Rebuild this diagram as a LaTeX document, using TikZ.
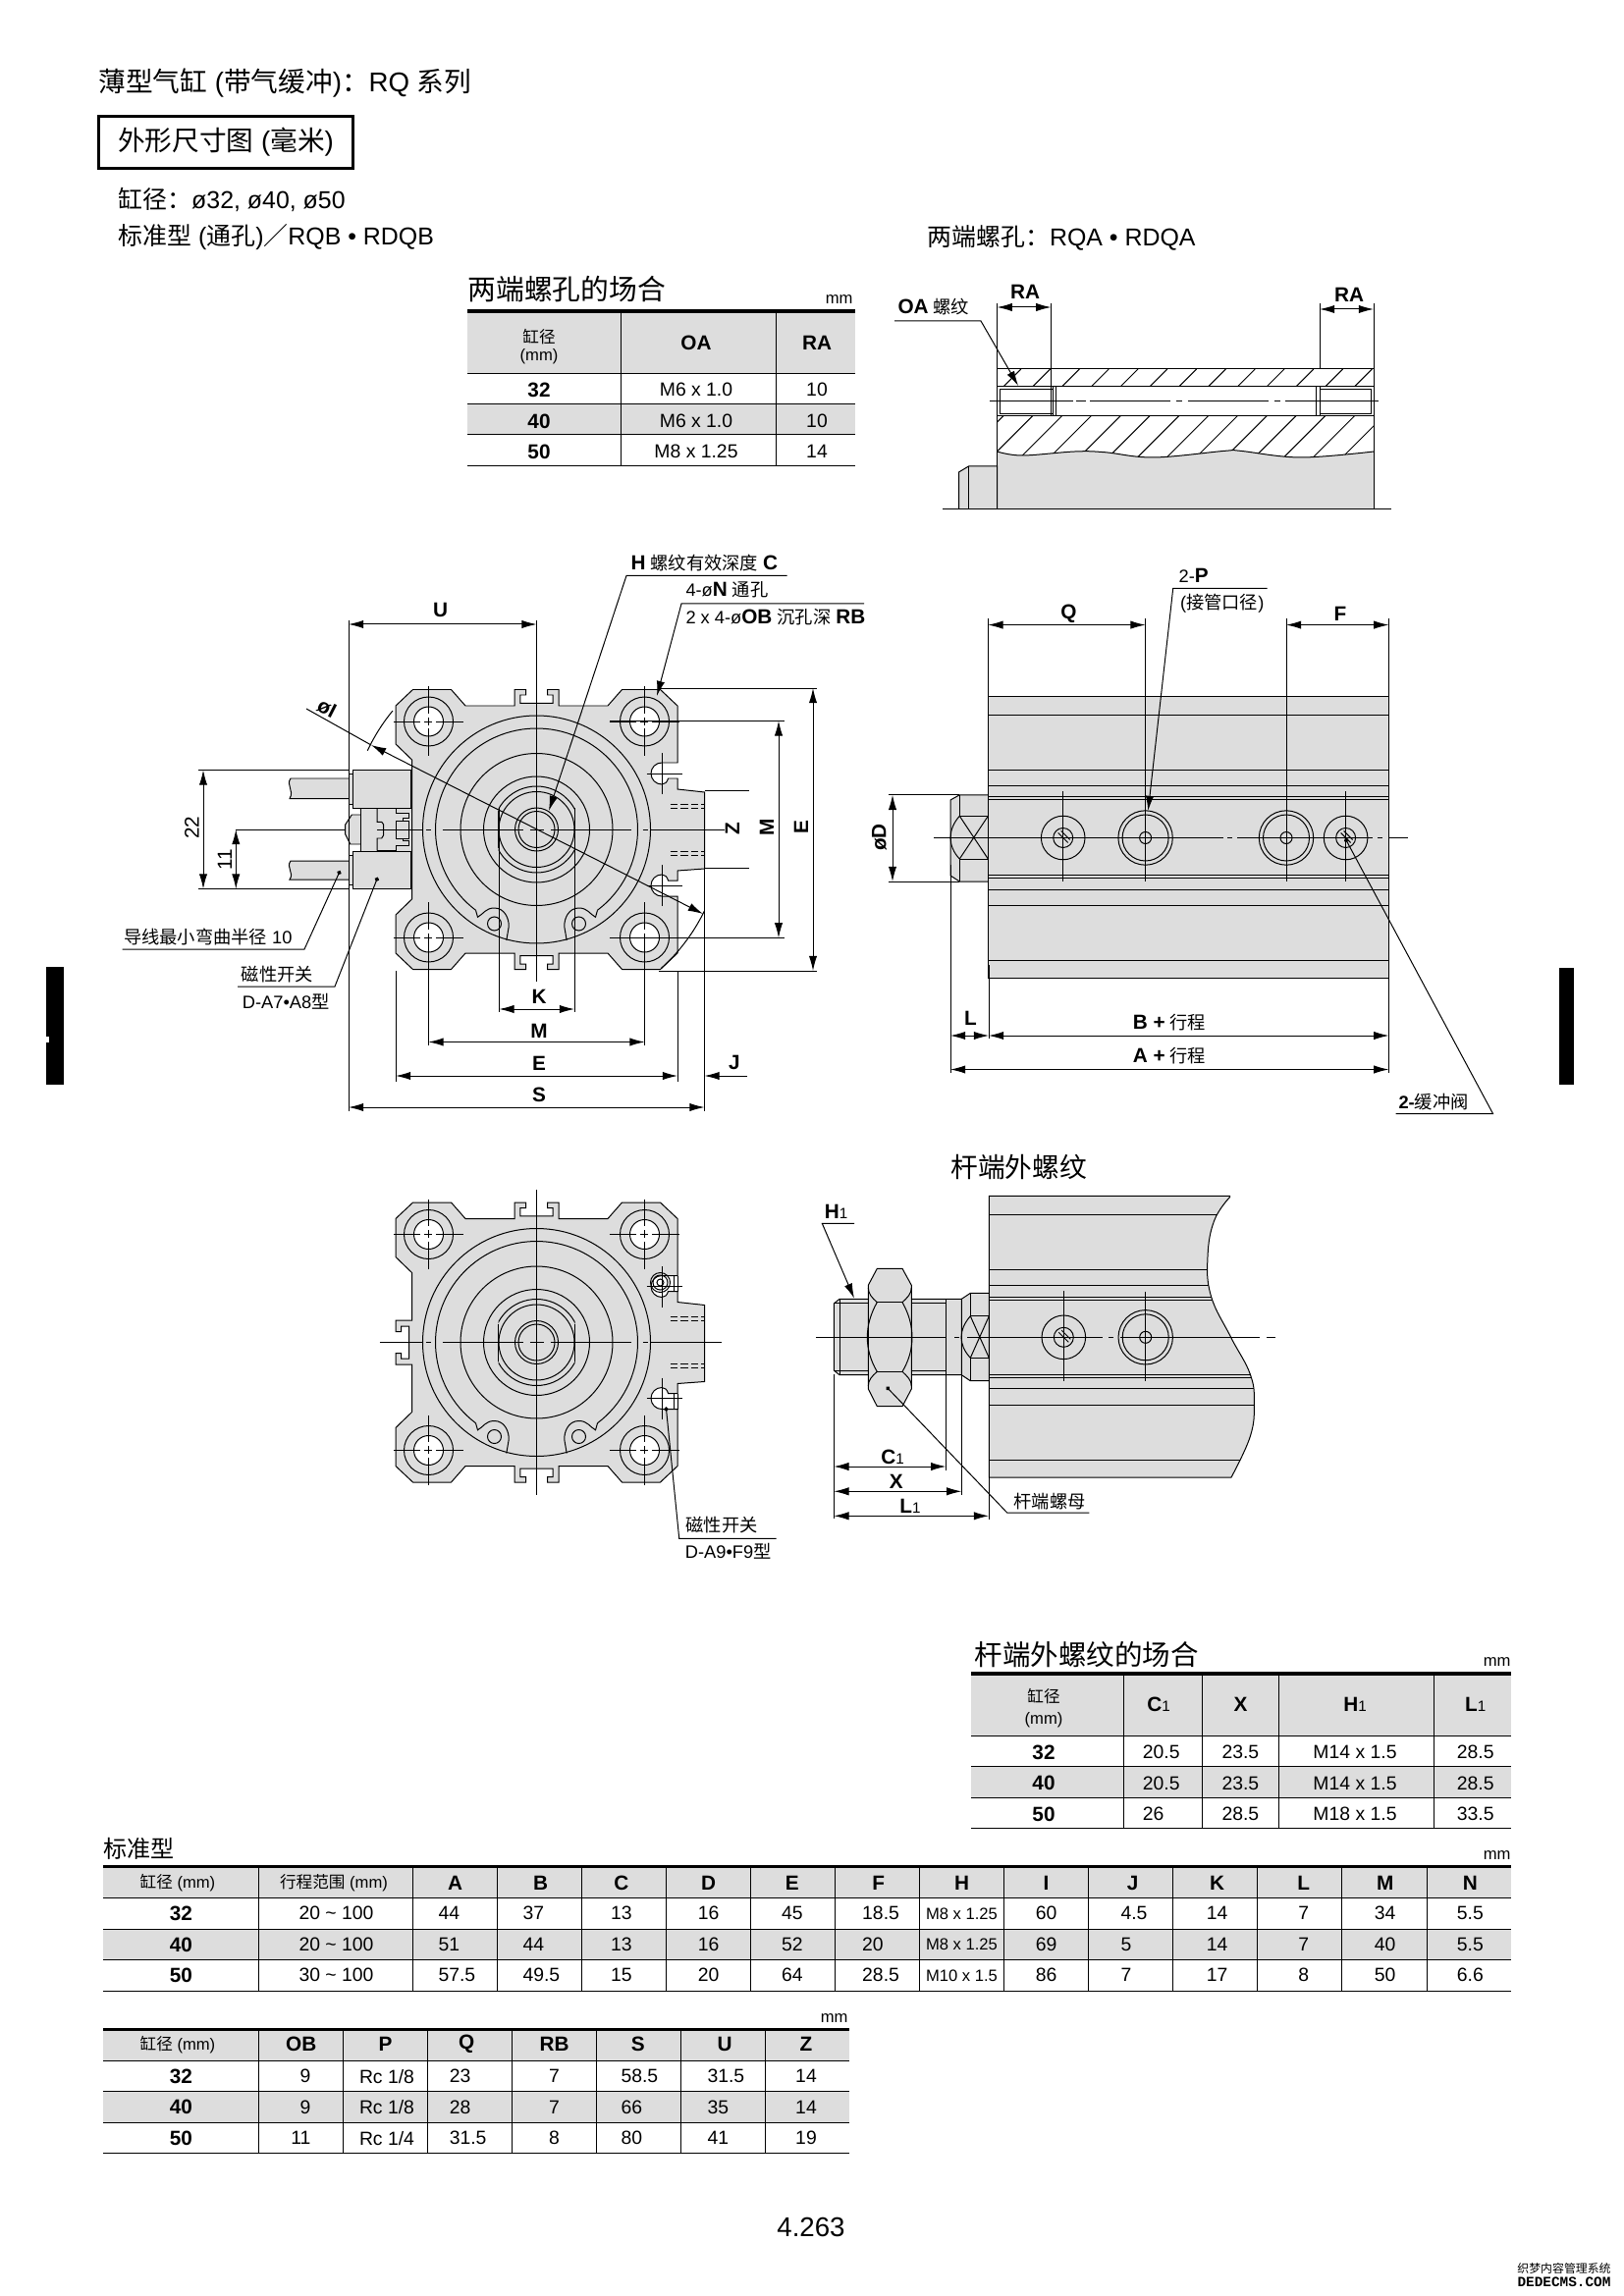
\documentclass[tikz,border=0pt]{standalone}
\usepackage{fontspec}
\setmainfont{Liberation Sans}
\newfontfamily\cjk{Noto Sans CJK SC}
\newfontfamily\wmark{Liberation Mono}
\usetikzlibrary{arrows.meta}
\definecolor{panel}{HTML}{DDDDDD}
\newcommand{\zh}[1]{{\cjk #1}}
\newcommand{\lowone}{{\fontsize{5.5}{6}\selectfont\mdseries 1}}
\tikzset{
  dim/.style={{Latex[length=5.5pt,width=3pt]}-{Latex[length=5.5pt,width=3pt]}},
  ldr/.style={-{Latex[length=5.5pt,width=3pt]}},
  ldrdot/.style={-{Circle[length=1.6pt]}},
  cl/.style={dash pattern=on 10pt off 1.4pt on 2.9pt off 1.4pt on 10pt off 1pt},
  head/.style={font=\fontsize{10}{12}\selectfont,inner sep=0pt},
  sub/.style={font=\fontsize{9}{11}\selectfont,inner sep=0pt},
  lbl/.style={font=\fontsize{7.5}{9}\selectfont\bfseries,inner sep=0pt},
  val/.style={font=\fontsize{7}{8.4}\selectfont,inner sep=0pt},
  note/.style={font=\fontsize{6.6}{8}\selectfont,inner sep=0pt},
  small/.style={font=\fontsize{6}{7}\selectfont,inner sep=0pt},
  rulethick/.style={line width=1.2pt}
}
% plate outline, without its left edge
\def\plateoutline{(-127,-71) -- (-143.5,-87) -- (-143.5,-126) -- (-126,-142.5) -- (-87,-142.5) -- (-72.5,-126)
  -- (-22.5,-126) -- (-22.5,-142.5) -- (-11,-142.5) -- (-11,-137) -- (-16.7,-137) -- (-16.7,-128.7)
  -- (16.7,-128.7) -- (16.7,-137) -- (11,-137) -- (11,-142.5) -- (22.5,-142.5) -- (22.5,-126)
  -- (72.5,-126) -- (87,-142.5) -- (126,-142.5) -- (143.5,-126) -- (143.5,-68) -- (127.5,-68)
  .. controls (121.4,-68) and (116.5,-63.1) .. (116.5,-57) .. controls (116.5,-50.9) and (121.4,-46) .. (127.5,-46)
  .. controls (130.5,-46) and (133,-48) .. (134,-52) -- (143.5,-52) -- (143.5,-41) -- (171,-38) -- (171,40) -- (143.5,42)
  -- (143.5,52) -- (134,52) .. controls (133,48) and (130.5,46) .. (127.5,46)
  .. controls (121.4,46) and (116.5,50.9) .. (116.5,57) .. controls (116.5,63.1) and (121.4,68) .. (127.5,68)
  -- (143.5,68) -- (143.5,126) -- (126,142.5) -- (87,142.5) -- (72.5,126) -- (22.5,126) -- (22.5,142.5)
  -- (11,142.5) -- (11,137) -- (16.7,137) -- (16.7,128.7) -- (-16.7,128.7) -- (-16.7,137) -- (-11,137)
  -- (-11,142.5) -- (-22.5,142.5) -- (-22.5,126) -- (-72.5,126) -- (-87,142.5) -- (-126,142.5)
  -- (-143.5,126) -- (-143.5,87) -- (-127,71)}
% everything inside the plate
\newcommand{\platedetail}{
  \foreach \r in {116,77.5,54,22,18.5} {
    \draw (0,0) circle[radius=\r];
  }
  \draw plot[domain=127:413,samples=90] ({103*cos(\x)},{103*sin(\x)});
  \begin{scope}
    \clip (-39,-50) rectangle (39,50);
    \draw (0,0) circle[radius=44];
    \draw (0,0) circle[radius=38.5];
  \end{scope}
  \draw[line width=0.55pt] (-39,-19) -- (-39,19);
  \draw[line width=0.55pt] (39,-19) -- (39,19);
  \foreach \s in {-1,1} {
    \draw ({\s*62},82.3) -- ({\s*60},89.3) .. controls ({\s*54},86) and ({\s*52},80) .. ({\s*43},80)
      .. controls ({\s*33},80) and ({\s*28},90) .. ({\s*28.3},99) -- ({\s*30.7},113);
    \draw ({\s*43},96) circle[radius=7];
    \draw[dash pattern=on 2.8pt off 1pt] (136,{\s*22}) -- (171,{\s*22});
    \draw[dash pattern=on 2.8pt off 1pt] (136,{\s*26}) -- (171,{\s*26});
    \draw (112,{\s*57}) -- (148,{\s*57});
    \draw (127.5,{\s*36}) -- (127.5,{\s*78});
    \foreach \t in {-1,1} {
      \draw ({\s*110},{\t*110}) circle[radius=25];
      \draw[fill=white] ({\s*110},{\t*110}) circle[radius=15];
      \draw[cl] ({\s*110-36},{\t*110}) -- ({\s*110+36},{\t*110});
      \draw[cl] ({\s*110},{\t*110-36}) -- ({\s*110},{\t*110+36});
    }
  }
}
\newcommand{\platecenter}[4]{
  \foreach \a/\b in {#1/-116,-113/-108,-96/-14,-7/7,14/96,108/113,116/#2} {
    \draw (\a,0) -- (\b,0);
  }
  \draw (0,#3) -- (0,#4);
}
\newcommand{\screwport}[2]{
  \begin{scope}[shift={(#1,#2)}]
    \draw (0,0) circle[radius=22.3];
    \draw (0,0) circle[radius=10];
    \draw (-5,-5) -- (5,5);
    \draw (-2,-7) -- (7,2);
  \end{scope}
}
\newcommand{\bigport}[2]{
  \begin{scope}[shift={(#1,#2)}]
    \draw (0,0) circle[radius=27.7];
    \draw (0,0) circle[radius=23.5];
    \draw (0,0) circle[radius=6];
  \end{scope}
}
\begin{document}
\begin{tikzpicture}[x=0.127mm,y=-0.127mm,line width=0.36pt]
\useasboundingbox (0,0) rectangle (1653,2339);
% headings
\node[head,anchor=west] (maintitle) at (100,85) {\zh{薄型气缸} (\zh{带气缓冲})\zh{：}RQ \zh{系列}};
\node[head,draw,line width=0.9pt,minimum width=260*0.36pt,minimum height=53*0.36pt] (unitbox) at (230,145) {\raisebox{-0.7pt}{\zh{外形尺寸图} (\zh{毫米})}};
\node[sub,anchor=west] (borelist) at (120,203) {\zh{缸径：}ø32, ø40, ø50};
\node[sub,anchor=west] (typeleft) at (120,242) {\zh{标准型} (\zh{通孔})\zh{／}RQB • RDQB};
\node[sub,anchor=west] (typeright) at (944,242) {\zh{两端螺孔：}RQA • RDQA};
% side marks
\fill (47,985) rectangle (65,1105);
\fill[white] (47,1056) rectangle (50,1062);
\fill (1588,986) rectangle (1603,1105);
% table, tapped ends
\node[head,anchor=west,font=\fontsize{10.4}{12}\selectfont] (tapname) at (476,295) {\zh{两端螺孔的场合}};
\node[small,anchor=east] (tapmm) at (869,305) {mm};
\fill[panel] (476,317) rectangle (871,381);
\fill[panel] (476,412) rectangle (871,443);
\draw[rulethick] (476,317) -- (871,317);
\foreach \y in {381,412,443,475} {
  \draw (476,\y) -- (871,\y);
}
\foreach \x in {632,790} {
  \draw (\x,317) -- (\x,475);
}
\node[small] (tapbore) at (549,343) {\zh{缸径}};
\node[small] (tapboremm) at (549,363) {(mm)};
\node[lbl] (tapoa) at (709,349) {OA};
\node[lbl] (tapra) at (832,349) {RA};
\foreach \y/\b/\o/\r [count=\c] in {397/32/M6 x 1.0/10,429/40/M6 x 1.0/10,460/50/M8 x 1.25/14} {
  \node[lbl] (tapb\c) at (549,\y) {\b};
  \node[val] (tapo\c) at (709,\y) {\o};
  \node[val] (tapr\c) at (832,\y) {\r};
}
% section through the tapped end
\begin{scope}
  \clip (1015.6,376) rectangle (1399,470);
  \foreach \k in {0,1,...,17} {
    \draw ({1010+\k*29.8},376) -- ({916+\k*29.8},470);
  }
\end{scope}
\fill[white] (1015.6,394) rectangle (1399,424);
\fill[panel] plot[smooth,tension=0.6] coordinates {(1015.6,460) (1041,464) (1094.6,460) (1125,460.7) (1175,466) (1247.8,459.3) (1263,459.3) (1324.4,466) (1399,460)} -- (1399,519) -- (1015.6,519) -- cycle;
\draw plot[smooth,tension=0.6] coordinates {(1015.6,460) (1041,464) (1094.6,460) (1125,460.7) (1175,466) (1247.8,459.3) (1263,459.3) (1324.4,466) (1399,460)};
\draw[fill=panel] (976.5,519) -- (976.5,481) -- (986.5,475) -- (1015.6,475) -- (1015.6,519);
\draw (986.5,475) -- (986.5,519);
\draw (1015.6,376) rectangle (1399,519);
\draw (1015.6,394) -- (1399,394);
\draw (1015.6,424) -- (1399,424);
\draw (1018.7,397) rectangle (1072.7,422);
\draw (1075,394) -- (1075,424);
\draw (1072.7,394) -- (1072.7,424);
\draw (1340,394) -- (1340,424);
\draw (1344,394) -- (1344,424);
\draw (1344,397) rectangle (1396.5,422);
\foreach \a/\b in {1007.6/1092.6,1096/1106,1110/1192,1198/1204,1209.5/1292,1298/1304,1309/1404} {
  \draw (\a,409) -- (\b,409);
}
\foreach \a/\b in {960/1040,1047/1058,1065/1150,1157/1165,1172/1245,1252/1260,1268/1350,1357/1363,1370/1417} {
  \draw (\a,519) -- (\b,519);
}
\draw (1015.6,309) -- (1015.6,376);
\draw (1070.4,309) -- (1070.4,423);
\draw (1344,309) -- (1344,376);
\draw (1399,309) -- (1399,376);
\draw[dim] (1015.6,313) -- (1070.4,313);
\draw[dim] (1344,315) -- (1399,315);
\node[lbl] (rahead) at (1044,297) {RA};
\node[lbl] (rbhead) at (1374,300) {RA};
\node[note,anchor=west] (oalabel) at (914,313) {{\bfseries\fontsize{7.5}{9}\selectfont OA} \zh{螺纹}};
\draw[ldr] (911,327) -- (999,327) -- (1037,393);
% front view
\begin{scope}[shift={(546.5,845)}]
  \draw[fill=panel] \plateoutline -- cycle;
  \platedetail
  \platecenter{-307}{191}{-213}{155}
\end{scope}
% switches on the front view
\fill[panel] (367.7,823) rectangle (419,867);
\draw[fill=panel] (367.7,830) -- (358.3,830) -- (351.7,840) -- (351.7,850) -- (356.7,860) -- (367.7,860);
\draw (367.7,823) -- (367.7,867);
\draw (384,823.3) -- (384,837.3) -- (388.7,837.3) -- (390.7,840) -- (390.7,850.7) -- (388.7,854) -- (384,854) -- (384,866.7);
\draw (384,823.3) -- (403.3,823.3) -- (403.3,828.3) -- (416.7,828.3) -- (416.7,833.3) -- (410,833.3) -- (410,836) -- (403.3,836);
\draw (384,866.7) -- (403.3,866.7) -- (403.3,861.7) -- (416.7,861.7) -- (416.7,856.7) -- (410,856.7) -- (410,854) -- (403.3,854);
\draw (403.3,836) rectangle (416.7,854);
\foreach \t/\b in {793/813.6,877/896} {
  \fill[panel] (296,\t) .. controls (291,{\t+7}) and (300,{\t+12}) .. (295,\b) -- (355,\b) -- (355,\t) -- cycle;
  \draw (355,\t) -- (296,\t) .. controls (291,{\t+7}) and (300,{\t+12}) .. (295,\b) -- (355,\b);
}
\foreach \t/\b in {784.3/823.3,867.3/905.7} {
  \draw[fill=panel] (419,\t) -- (359.3,\t) -- (359.3,\b) -- (419,\b);
  \draw[line width=0.8pt] (419,\t) -- (419,\b);
  \draw[fill=panel] (355.7,{\t+4}) rectangle (359.3,{\b-4});
}
\draw (384,845) -- (419,845);
% dimensions of the front view
\draw (355,632) -- (355,1132);
\draw[dim] (355,636) -- (546.5,636);
\node[lbl] (ulabel) at (448.5,621.6) {U};
\draw (202,784.5) -- (355,784.5);
\draw (202,905.5) -- (355,905.5);
\draw[dim] (207,784.5) -- (207,905.5);
\draw[dim] (240.3,845) -- (240.3,905.5);
\node[val,rotate=90,font=\fontsize{7.5}{9}\selectfont] (d22) at (195.4,843) {22};
\node[val,rotate=90,font=\fontsize{7.5}{9}\selectfont] (d11) at (229,875.7) {11};
\draw[dim] (378,759) -- (716,931);
\draw (378,759) -- (312,722);
\draw plot[domain=26:48,samples=20] ({546.5+190*cos(\x)},{845+190*sin(\x)});
\draw plot[domain=205:219.5,samples=20] ({546.5+190*cos(\x)},{845+190*sin(\x)});
\node[lbl,rotate=-27] (borei) at (333,722) {øI};
\node[note,anchor=west] (hlabel) at (642,574) {{\bfseries\fontsize{7.5}{9}\selectfont H} \zh{螺纹有效深度} {\bfseries\fontsize{7.5}{9}\selectfont C}};
\draw[ldr] (801.5,586.4) -- (638,586.4) -- (559,826);
\node[note,anchor=west] (nlabel) at (698,601) {4-ø{\bfseries\fontsize{7.5}{9}\selectfont N} \zh{通孔}};
\draw[ldr] (880,615) -- (694,615) -- (669,709);
\node[note,anchor=west] (oblabel) at (698,629) {2 x 4-ø{\bfseries\fontsize{7.5}{9}\selectfont OB} \zh{沉孔深} {\bfseries\fontsize{7.5}{9}\selectfont RB}};
\draw (671,701) -- (832,701);
\draw (671,989) -- (832,989);
\draw[dim] (828,701) -- (828,989);
\node[lbl,rotate=90] (elabel) at (816,843) {E};
\draw (621,734.3) -- (799,734.3);
\draw (621,955.4) -- (799,955.4);
\draw[dim] (793,734.3) -- (793,955.4);
\node[lbl,rotate=90] (mlabel) at (781,843) {M};
\draw (717.5,805.5) -- (763,805.5);
\draw (717.5,884) -- (763,884);
\node[lbl,rotate=90] (zlabel) at (746,844) {Z};
\draw (508.3,823) -- (508.3,1031);
\draw (585,823) -- (585,1031);
\draw[dim] (508.3,1028) -- (585,1028);
\node[lbl] (klabel) at (549,1015.5) {K};
\draw (436.5,955) -- (436.5,1065);
\draw (656.5,955) -- (656.5,1065);
\draw[dim] (436.5,1061.5) -- (656.5,1061.5);
\node[lbl] (mbelow) at (549,1050) {M};
\draw (403,989) -- (403,1102);
\draw (690,989) -- (690,1102);
\draw[dim] (403,1096) -- (690,1096);
\node[lbl] (ebelow) at (549,1083) {E};
\draw (717.5,884) -- (717.5,1132);
\draw[ldr] (761,1096) -- (717.5,1096);
\node[lbl] (jlabel) at (748,1082.5) {J};
\draw[dim] (355,1128) -- (717.5,1128);
\node[lbl] (slabel) at (549,1115) {S};
\node[note,anchor=west] (bendlabel) at (125.5,954) {\zh{导线最小弯曲半径} 10};
\draw[ldrdot] (124.5,967) -- (310,967) -- (346.4,887);
\node[note,anchor=west] (swlabel) at (245.4,992.5) {\zh{磁性开关}};
\draw[ldrdot] (242,1005) -- (341,1005) -- (384.7,893.7);
\node[note,anchor=west] (swtype) at (246.4,1020) {D-A7•A8\zh{型}};
% side view
\fill[panel] (1006.3,709.4) rectangle (1414.4,996.8);
\foreach \y in {709.4,728.6,784.5,800.6,811.5,814.8,891.5,894.8,906,922.8,978.8,996.8} {
  \draw (1006.3,\y) -- (1414.4,\y);
}
\draw[fill=panel] (1006.3,809.8) -- (977.3,809.8) -- (968,815) -- (968,892) -- (977.3,898) -- (1006.3,898);
\draw (1006.3,709.4) -- (1006.3,996.8);
\draw (1414.4,709.4) -- (1414.4,996.8);
\draw (977.3,809.8) -- (977.3,831.3) -- (1006.3,831.3);
\draw (977.3,898) -- (977.3,875) -- (1006.3,875);
\draw (977.3,831.3) -- (1006.3,875);
\draw (977.3,875) -- (1006.3,831.3);
\draw (977.3,831.3) .. controls (965,845) and (965,862) .. (977.3,875);
\screwport{1082.7}{853.5}
\screwport{1370.6}{853.5}
\bigport{1166.6}{853.5}
\bigport{1310}{853.5}
\draw (1082.7,806) -- (1082.7,898);
\draw (1370.6,806) -- (1370.6,898);
\draw (1166.6,630) -- (1166.6,898);
\draw (1310,630) -- (1310,898);
\foreach \a/\b in {951/1246,1250/1255,1260/1398,1403/1408,1415/1434} {
  \draw (\a,853.5) -- (\b,853.5);
}
\draw (1006.3,630) -- (1006.3,709.4);
\draw (1414.4,630) -- (1414.4,709.4);
\draw[dim] (1006.3,636.6) -- (1166.6,636.6);
\draw[dim] (1310,636.6) -- (1414.4,636.6);
\node[lbl] (qlabel) at (1088.5,625) {Q};
\node[lbl] (flabel) at (1365,625) {F};
\node[note] (plabel) at (1215.7,586) {2-{\bfseries\fontsize{7.5}{9}\selectfont P}};
\draw[ldr] (1290.7,599.5) -- (1194.7,599.5) -- (1169.3,826);
\node[note] (pnote) at (1244.7,614.8) {(\zh{接管口径})};
\draw (904.6,809.8) -- (977,809.8);
\draw (904.6,898) -- (977,898);
\draw[dim] (909,809.8) -- (909,898);
\node[lbl,rotate=90] (dlabel) at (895.6,853) {øD};
\draw (968,881) -- (968,1092.6);
\draw (1007,983) -- (1007,1058);
\draw (1414.4,997) -- (1414.4,1092.6);
\draw[dim] (968,1055) -- (1007,1055);
\draw[dim] (1007,1055) -- (1414.4,1055);
\draw[dim] (968,1089.5) -- (1414.4,1089.5);
\node[lbl] (llabel) at (988.5,1037.8) {L};
\node[note] (blabel) at (1191,1042) {{\bfseries\fontsize{7.5}{9}\selectfont B +} \zh{行程}};
\node[note] (alabel) at (1191,1076) {{\bfseries\fontsize{7.5}{9}\selectfont A +} \zh{行程}};
\node[note] (cushlabel) at (1460,1123) {{\bfseries 2-}\zh{缓冲阀}};
\draw[ldrdot] (1421.5,1134.7) -- (1520.6,1134.7) -- (1370,854);
% rod end with outer thread
\node[head] (rodname) at (1037.5,1189) {\zh{杆端外螺纹}};
\begin{scope}[shift={(546.5,1367.5)}]
  \draw[fill=panel] \plateoutline -- (-127,22.5) -- (-143.5,22.5) -- (-143.5,11) -- (-138,11) -- (-138,16.5) -- (-130,16.5) -- (-130,-16.5) -- (-138,-16.5) -- (-138,-11) -- (-143.5,-11) -- (-143.5,-22.5) -- (-127,-22.5) -- cycle;
  \platedetail
  \platecenter{-160}{188}{-155.7}{155}
  \draw (126,-61) circle[radius=10];
  \draw (126,-61) circle[radius=7.5];
  \draw (126,-61) circle[radius=3.5];
  \foreach \s in {-1,1} {
    \draw (140,{\s*68}) -- (140,{\s*52});
    \draw (143.5,{\s*68}) -- (143.5,{\s*52});
  }
\end{scope}
\node[note] (swlabelb) at (735,1554) {\zh{磁性开关}};
\draw[ldrdot] (790.7,1567.3) -- (691.7,1567.3) -- (678.3,1433.3);
\node[note] (swtypeb) at (741.7,1580.7) {D-A9•F9\zh{型}};
% rod side view
\def\rodbody{(1007.3,1218.3) -- (1252.7,1218.3) -- plot[smooth,tension=0.7] coordinates {(1252.7,1219.3) (1236.7,1243.3) (1230,1280) (1233.3,1320) (1253.3,1361.7) (1273.3,1400) (1277.3,1430) (1273.3,1463.3) (1254,1505)} -- (1007.3,1505) -- cycle}
\draw[fill=panel] \rodbody;
\begin{scope}
  \clip \rodbody;
  \foreach \y in {1237.7,1293.3,1309.3,1321.7,1324.7,1400.7,1403.7,1414.3,1431.7,1487.3} {
    \draw (1007.3,\y) -- (1300,\y);
  }
\end{scope}
\draw[fill=panel] (1007.3,1323.3) -- (855,1323.3) -- (849.3,1328) -- (849.3,1396) -- (855,1400.7) -- (1007.3,1400.7);
\draw (849.3,1327) -- (963.3,1327);
\draw (849.3,1396.7) -- (963.3,1396.7);
\draw (855,1323.3) -- (855,1400.7);
\draw (963.3,1323.3) -- (963.3,1498);
\draw[fill=panel] (1007.3,1317.3) -- (988.3,1317.3) -- (979.3,1323.3) -- (979.3,1400.7) -- (988.3,1406.7) -- (1007.3,1406.7) -- cycle;
\draw (979.3,1400.7) -- (979.3,1523.3);
\draw (988.3,1317.3) -- (988.3,1340.7) -- (1007.3,1340.7);
\draw (988.3,1406.7) -- (988.3,1383.3) -- (1007.3,1383.3);
\draw (988.3,1340.7) -- (1007.3,1383.3);
\draw (988.3,1383.3) -- (1007.3,1340.7);
\draw (988.3,1340.7) .. controls (976,1355) and (976,1370) .. (988.3,1383.3);
% nut
\draw[fill=panel] (893.3,1292.3) -- (919,1292.3) -- (928.3,1309.3) -- (928.3,1415) -- (919,1432.7) -- (893.3,1432.7) -- (884.3,1415) -- (884.3,1309.3) -- cycle;
\draw (893.3,1326.7) -- (919,1326.7);
\draw (893.3,1397.3) -- (919,1397.3);
\draw (893.3,1326.7) .. controls (880,1350) and (880,1375) .. (893.3,1397.3);
\draw (919,1326.7) .. controls (932.3,1350) and (932.3,1375) .. (919,1397.3);
\draw (884.3,1311.7) .. controls (884.3,1318) and (888,1322) .. (893.3,1326.7);
\draw (928.3,1311.7) .. controls (928.3,1318) and (924,1322) .. (919,1326.7);
\draw (884.3,1412) .. controls (884.3,1406) and (888,1402) .. (893.3,1397.3);
\draw (928.3,1412) .. controls (928.3,1406) and (924,1402) .. (919,1397.3);
\screwport{1083.3}{1362.3}
\bigport{1166.7}{1362.3}
\draw (1083.3,1315) -- (1083.3,1406.7);
\draw (1166.7,1315.7) -- (1166.7,1406.7);
\foreach \a/\b in {831/964,972/977,985/1123,1129/1134,1141/1283,1290/1299} {
  \draw (\a,1362.3) -- (\b,1362.3);
}
\node[lbl] (honelabel) at (851.7,1234.3) {H\lowone};
\draw[ldr] (870,1246.3) -- (837.3,1246.3) -- (870,1322.7);
\draw (849.3,1400) -- (849.3,1547.3);
\draw (1007,1500) -- (1007,1548);
\draw[dim] (849.3,1494) -- (963.3,1494);
\draw[dim] (849.3,1519.3) -- (979.3,1519.3);
\draw[dim] (849.3,1544.3) -- (1007,1544.3);
\node[lbl] (conelabel) at (909,1484.3) {C\lowone};
\node[lbl] (xlabel) at (912.7,1509.3) {X};
\node[lbl] (lonelabel) at (927,1534) {L\lowone};
\node[note] (nutlabel) at (1069,1529.3) {\zh{杆端螺母}};
\draw[ldrdot] (1109.3,1541) -- (1025.7,1541) -- (902.7,1412.7);
% table, rod end thread
\node[head,anchor=west,font=\fontsize{10.3}{12}\selectfont] (rodtname) at (992,1686) {\zh{杆端外螺纹的场合}};
\node[small,anchor=east] (rodtmm) at (1539,1693) {mm};
\fill[panel] (989,1705) rectangle (1539,1768.3);
\fill[panel] (989,1799.3) rectangle (1539,1831.7);
\draw[rulethick] (989,1705) -- (1539,1705);
\foreach \y in {1768.3,1799.3,1831.7,1862.3} {
  \draw (989,\y) -- (1539,\y);
}
\foreach \x in {1144.6,1224.5,1302,1460} {
  \draw (\x,1705) -- (\x,1862.3);
}
\node[small] (rodtbore) at (1063,1728) {\zh{缸径}};
\node[small] (rodtboremm) at (1063,1751.7) {(mm)};
\node[lbl] (rodtc) at (1180,1736.7) {C\lowone};
\node[lbl] (rodtx) at (1263.4,1736.7) {X};
\node[lbl] (rodth) at (1380,1736.7) {H\lowone};
\node[lbl] (rodtl) at (1502.7,1736.7) {L\lowone};
\foreach \y/\b/\cc/\xx/\hh/\ll [count=\c] in {1785/32/20.5/23.5/M14 x 1.5/28.5,1816.7/40/20.5/23.5/M14 x 1.5/28.5,1848/50/26/28.5/M18 x 1.5/33.5} {
  \node[lbl] (rodb\c) at (1063,\y) {\b};
  \node[val,anchor=west] (rodc\c) at (1163.4,\y) {\cc};
  \node[val] (rodx\c) at (1263.4,\y) {\xx};
  \node[val] (rodh\c) at (1380,\y) {\hh};
  \node[val] (rodl\c) at (1502.7,\y) {\ll};
}
% table, standard type
\node[anchor=west,inner sep=0pt,font=\fontsize{8.7}{10}\selectfont] (stdname) at (105,1883) {\zh{标准型}};
\node[small,anchor=east] (stdmm) at (1539,1890) {mm};
\fill[panel] (105,1901.7) rectangle (1539,1933.3);
\fill[panel] (105,1965.3) rectangle (1539,1996.3);
\draw[rulethick] (105,1901.7) -- (1539,1901.7);
\foreach \y in {1933.3,1965.3,1996.3,2028.3} {
  \draw (105,\y) -- (1539,\y);
}
\foreach \x in {263.5,420.6,506.3,592.6,678.3,764.5,850,936,1022.3,1108,1194,1280,1366,1453} {
  \draw (\x,1901.7) -- (\x,2028.3);
}
\node[small] (stdbore) at (181,1918.3) {\zh{缸径} (mm)};
\node[small] (stdstroke) at (340,1918.3) {\zh{行程范围} (mm)};
\foreach \x/\t [count=\c] in {463.5/A,550.7/B,632.9/C,721.6/D,806.8/E,894.6/F,979.5/H,1065.6/I,1153.6/J,1239.7/K,1327.7/L,1410.7/M,1497.3/N} {
  \node[lbl] (stdh\c) at (\x,1918.3) {\t};
}
\foreach \y/\b/\s [count=\c] in {1949.3/32/20 \textasciitilde\ 100,1981/40/20 \textasciitilde\ 100,2012.3/50/30 \textasciitilde\ 100} {
  \node[lbl] (stdb\c) at (184.4,\y) {\b};
  \node[val] (stds\c) at (342.5,\y) {\s};
}
\foreach \x/\p/\q/\r [count=\c] in {446/44/51/57.5,532/37/44/49.5,877.7/18.5/20/28.5,1141/4.5/5/7} {
  \node[val,anchor=west] (stdl\c a) at (\x,1949.3) {\p};
  \node[val,anchor=west] (stdl\c b) at (\x,1981) {\q};
  \node[val,anchor=west] (stdl\c c) at (\x,2012.3) {\r};
}
\foreach \x/\p/\q/\r [count=\c] in {632.9/13/13/15,721.6/16/16/20,806.8/45/52/64,1065.6/60/69/86,1239.7/14/14/17,1327.7/7/7/8,1410.7/34/40/50,1497.3/5.5/5.5/6.6} {
  \node[val] (stdc\c a) at (\x,1949.3) {\p};
  \node[val] (stdc\c b) at (\x,1981) {\q};
  \node[val] (stdc\c c) at (\x,2012.3) {\r};
}
\node[val,font=\fontsize{6}{7}\selectfont] (stdtha) at (979.5,1949.3) {M8 x 1.25};
\node[val,font=\fontsize{6}{7}\selectfont] (stdthb) at (979.5,1981) {M8 x 1.25};
\node[val,font=\fontsize{6}{7}\selectfont] (stdthc) at (979.5,2012.3) {M10 x 1.5};
% second part of the table
\node[small,anchor=east] (partmm) at (864,2056) {mm};
\fill[panel] (105,2067.3) rectangle (864.5,2099.3);
\fill[panel] (105,2130.3) rectangle (864.5,2162.3);
\draw[rulethick] (105,2067.3) -- (864.5,2067.3);
\foreach \y in {2099.3,2130.3,2162.3,2193.3} {
  \draw (105,\y) -- (864.5,\y);
}
\foreach \x in {263.5,349.7,435.4,521.6,607.3,693.6,779.3} {
  \draw (\x,2067.3) -- (\x,2193.3);
}
\node[small] (partbore) at (181,2082.7) {\zh{缸径} (mm)};
\foreach \x/\t [count=\c] in {306.8/OB,392.5/P,475.2/Q,564.5/RB,649.7/S,738/U,821/Z} {
  \node[lbl] (parth\c) at (\x,2082.7) {\t};
}
\foreach \y/\b/\ob/\pp/\qq/\rb/\ss/\uu/\zz [count=\c] in {2115.3/32/9/Rc 1\slash 8/23/7/58.5/31.5/14,2146.7/40/9/Rc 1\slash 8/28/7/66/35/14,2178.3/50/11/Rc 1\slash 4/31.5/8/80/41/19} {
  \node[lbl] (partb\c) at (184.4,\y) {\b};
  \node[val,anchor=east] (partob\c) at (317,\y) {\ob};
  \node[val] (partp\c) at (394,\y) {\pp};
  \node[val,anchor=west] (partq\c) at (457.3,\y) {\qq};
  \node[val] (partrb\c) at (564.5,\y) {\rb};
  \node[val,anchor=west] (parts\c) at (632,\y) {\ss};
  \node[val,anchor=west] (partu\c) at (720,\y) {\uu};
  \node[val] (partz\c) at (821,\y) {\zz};
}
% page number and stamp
\node[head] (pageno) at (826,2269) {4.263};
\node[inner sep=0pt,font=\fontsize{4.3}{5}\selectfont\cjk] (stampcn) at (1593,2311) {织梦内容管理系统};
\node[inner sep=0pt,font=\fontsize{5.2}{6}\selectfont\wmark\bfseries] (stampen) at (1593,2325) {DEDECMS.COM};
\end{tikzpicture}
\end{document}
